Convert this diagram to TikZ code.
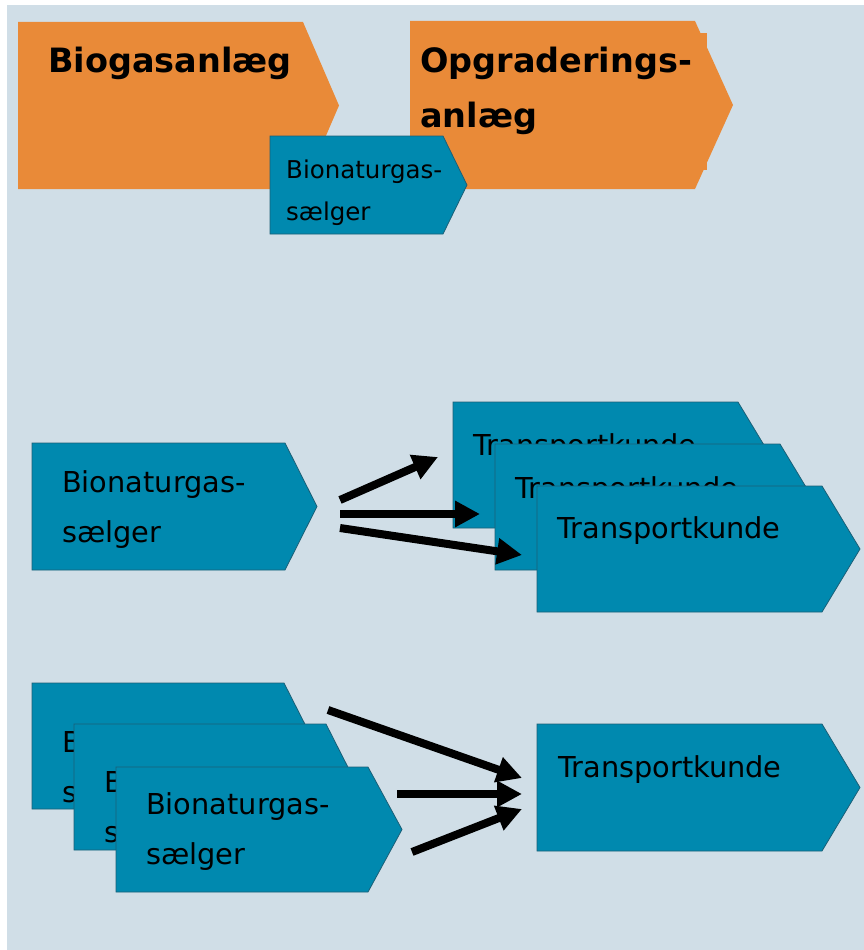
\documentclass[tikz,border=0pt]{standalone}
\usepackage{fontspec}
\setmainfont{DejaVu Sans}
\usetikzlibrary{arrows.meta}
\definecolor{bgblue}{HTML}{D0DEE7}
\definecolor{orangebox}{HTML}{E98A38}
\definecolor{tealbox}{HTML}{0089AF}
\definecolor{tealline}{HTML}{1B5F77}
\tikzset{
  orangeshape/.style={fill=orangebox, draw=none},
  tealshape/.style={fill=tealbox, draw=tealline, line width=0.8pt, line join=miter},
  titletext/.style={inner sep=0pt, align=left, font=\bfseries\fontsize{33.5}{55}\selectfont},
  bigtext/.style={inner sep=0pt, align=left, font=\fontsize{28.8}{50}\selectfont},
  smalltext/.style={inner sep=0pt, align=left, font=\fontsize{24.5}{42}\selectfont},
  flowarrow/.style={line width=8pt, -{Triangle[length=25pt,width=25pt]}}
}
\begin{document}
\begin{tikzpicture}[x=1pt,y=-1pt]
\useasboundingbox (0,0) rectangle (864,950);
\fill[white] (0,0) rectangle (864,950);
\fill[bgblue] (7,5) rectangle (864,950);

% ---- top row ----
\fill[orangeshape] (18,22) -- (303,22) -- (339,105.5) -- (303,189) -- (18,189) -- cycle;
\node[titletext, anchor=base west] (biogas) at (48,73) {Biogasanlæg};

\fill[orangeshape] (410,33) rectangle (707,170);
\fill[orangeshape] (410,21) -- (695,21) -- (733,105) -- (695,189) -- (410,189) -- cycle;
\node[titletext, anchor=north west] (opgrad) at (420,46.5) {Opgraderings-\\anlæg};

\filldraw[tealshape] (270,136) -- (443,136) -- (467,185) -- (443,234) -- (270,234) -- cycle;
\node[smalltext, anchor=north west] (bioTop) at (286,159.4) {Bionaturgas-\\sælger};

% ---- middle row ----
\filldraw[tealshape] (32,443) -- (285,443) -- (317,506.5) -- (285,570) -- (32,570) -- cycle;
\node[bigtext, anchor=north west] (bioMid) at (62,470.1) {Bionaturgas-\\sælger};

\filldraw[tealshape] (453,402) -- (738,402) -- (776,465) -- (738,528) -- (453,528) -- cycle;
\node[bigtext, anchor=base west] (tkA) at (473,455) {Transportkunde};
\filldraw[tealshape] (495,444) -- (780,444) -- (818,507) -- (780,570) -- (495,570) -- cycle;
\node[bigtext, anchor=base west] (tkB) at (515,498) {Transportkunde};
\filldraw[tealshape] (537,486) -- (822,486) -- (860,549) -- (822,612) -- (537,612) -- cycle;
\node[bigtext, anchor=base west] (tkC) at (557,538) {Transportkunde};

\coordinate (m1s) at (340,500); \coordinate (m1e) at (438,457);
\coordinate (m2s) at (340,514); \coordinate (m2e) at (480,514);
\coordinate (m3s) at (340,528); \coordinate (m3e) at (522,555);
\draw[flowarrow] (m1s) -- (m1e);
\draw[flowarrow] (m2s) -- (m2e);
\draw[flowarrow] (m3s) -- (m3e);

% ---- bottom row ----
\filldraw[tealshape] (32,683) -- (284,683) -- (316,746) -- (284,809) -- (32,809) -- cycle;
\node[bigtext, anchor=north west] (bioA) at (62,730.1) {Bionaturgas-\\sælger};
\filldraw[tealshape] (74,724) -- (326,724) -- (358,787) -- (326,850) -- (74,850) -- cycle;
\node[bigtext, anchor=north west] (bioB) at (104,770.1) {Bionaturgas-\\sælger};
\filldraw[tealshape] (116,767) -- (368,767) -- (402,829.5) -- (368,892) -- (116,892) -- cycle;
\node[bigtext, anchor=north west] (bioC) at (146,792.1) {Bionaturgas-\\sælger};

\filldraw[tealshape] (537,724) -- (822,724) -- (860,787.5) -- (822,851) -- (537,851) -- cycle;
\node[bigtext, anchor=base west] (tkBottom) at (558,777) {Transportkunde};

\coordinate (b1s) at (328,710); \coordinate (b1e) at (522,778);
\coordinate (b2s) at (397,794); \coordinate (b2e) at (522,794);
\coordinate (b3s) at (412,852); \coordinate (b3e) at (522,809);
\draw[flowarrow] (b1s) -- (b1e);
\draw[flowarrow] (b2s) -- (b2e);
\draw[flowarrow] (b3s) -- (b3e);
\end{tikzpicture}
\end{document}
